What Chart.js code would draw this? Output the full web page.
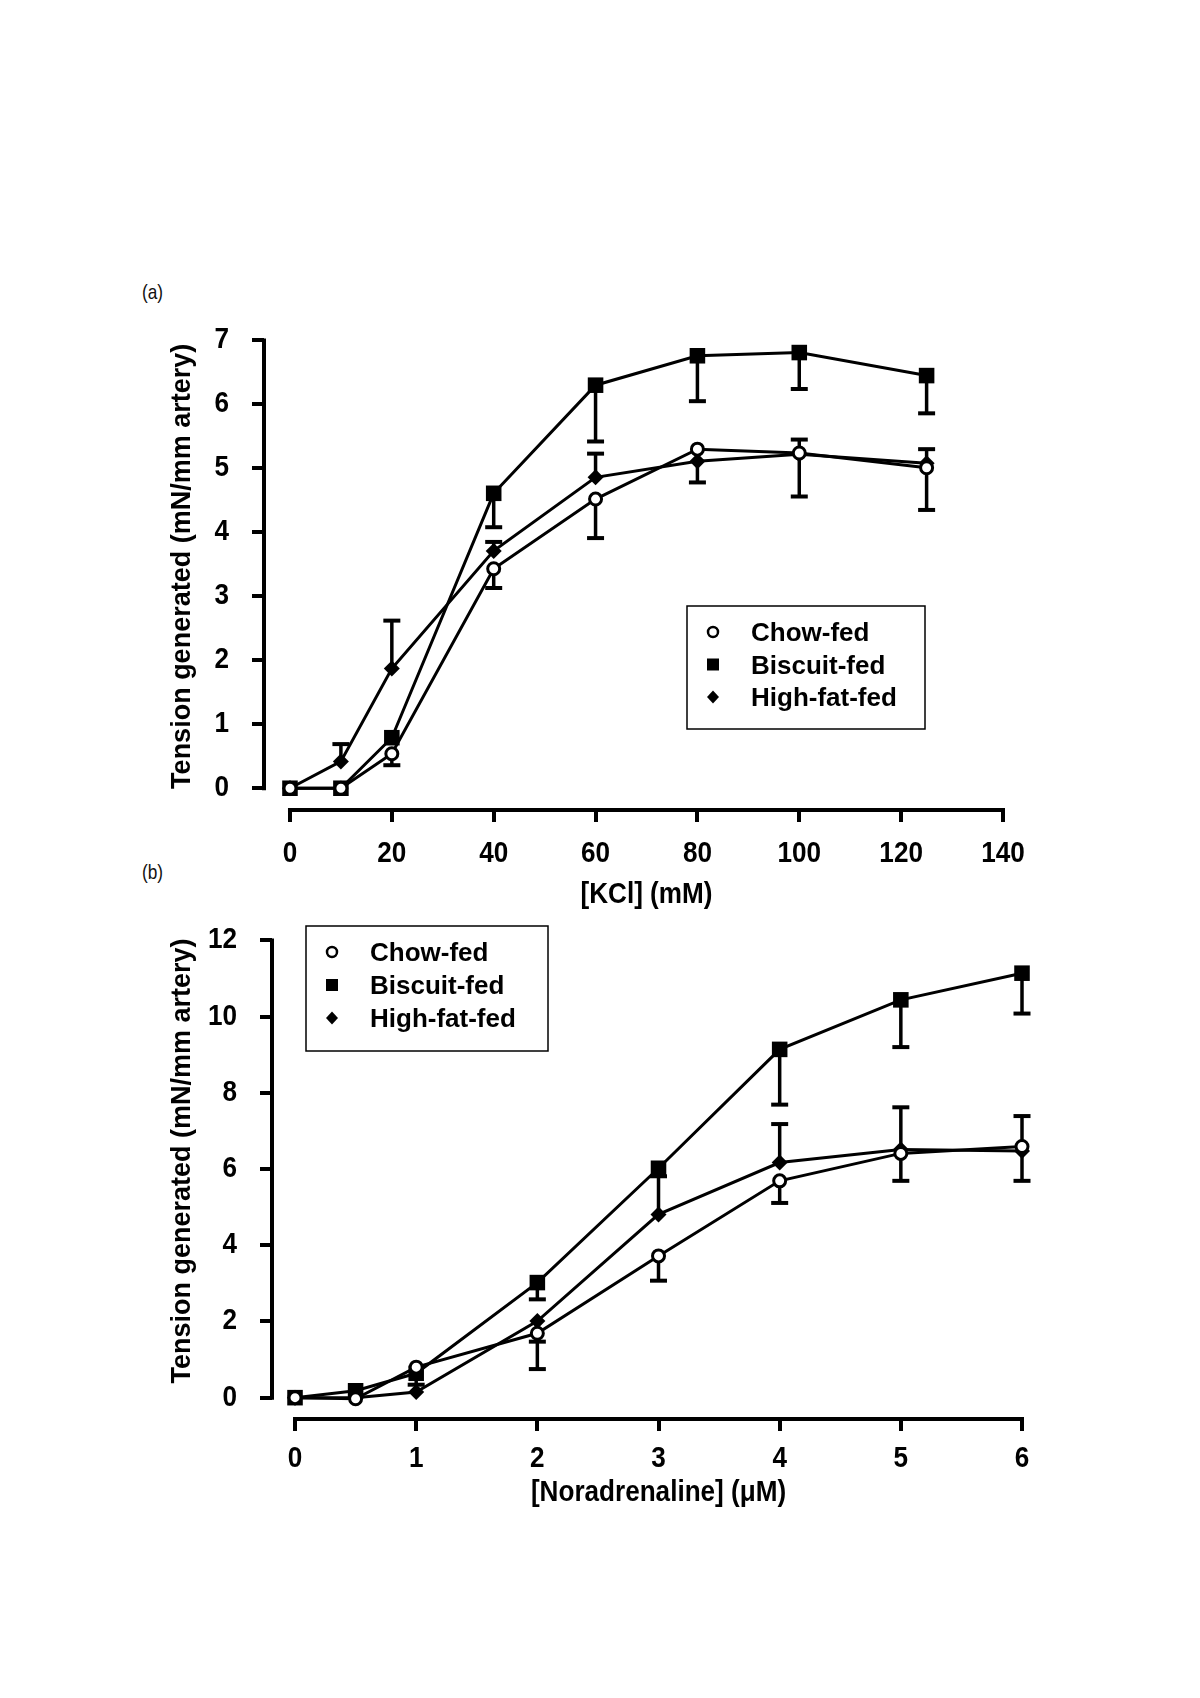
<!DOCTYPE html>
<html>
<head>
<meta charset="utf-8">
<script src="https://cdn.jsdelivr.net/npm/chart.js@4.4.1/dist/chart.umd.min.js"></script>
<style>
  body { margin: 0; background: #fff; }
  #page { position: relative; width: 1200px; height: 1698px; background: #fff; }
  canvas { position: absolute; left: 0; }
  .panel { position: absolute; font: 21px "Liberation Sans Narrow", "Liberation Sans", sans-serif; color: #111;
           transform: scaleX(0.82); transform-origin: left top; }
</style>
</head>
<body>
<div id="page">
  <div class="panel" style="left:142px; top:280px;">(a)</div>
  <div class="panel" style="left:142px; top:860px;">(b)</div>
  <canvas id="kclChart" width="1200" height="612" style="top:300px"></canvas>
  <canvas id="noradChart" width="1200" height="610" style="top:900px"></canvas>
</div>
<script>
const seriesNames = ['Chow-fed', 'Biscuit-fed', 'High-fat-fed'];
const yTitle = 'Tension generated (mN/mm artery)';

// (a) KCl response, mN/mm artery; errors are signed (only one side is drawn)
const kclConc = [0, 10, 20, 40, 60, 80, 100, 125];
const kclChow = [0, 0, 0.54, 3.43, 4.52, 5.30, 5.24, 5.01];
const kclChowErr = [0, 0, -0.18, -0.30, -0.61, 0, -0.68, -0.66];
const kclBiscuit = [0, 0, 0.79, 4.61, 6.30, 6.76, 6.81, 6.45];
const kclBiscuitErr = [0, 0, 0, -0.53, -0.88, -0.71, -0.57, -0.59];
const kclHighFat = [0, 0.42, 1.87, 3.71, 4.86, 5.11, 5.22, 5.08];
const kclHighFatErr = [0, 0.27, 0.75, 0.14, 0.37, -0.33, 0.23, 0.22];
const kclXTicks = [0, 20, 40, 60, 80, 100, 120, 140];
const kclYTicks = [0, 1, 2, 3, 4, 5, 6, 7];

// (b) noradrenaline response
const noradConc = [0, 0.5, 1, 2, 3, 4, 5, 6];
const noradChow = [0, -0.03, 0.80, 1.69, 3.72, 5.69, 6.41, 6.59];
const noradChowErr = [0, 0, 0, -0.94, -0.65, -0.58, -0.72, -0.90];
const noradBiscuit = [0, 0.18, 0.64, 3.02, 6.02, 9.14, 10.44, 11.14];
const noradBiscuitErr = [0, 0, -0.30, -0.44, 0, -1.45, -1.24, -1.06];
const noradHighFat = [0, 0, 0.15, 2.01, 4.81, 6.17, 6.51, 6.47];
const noradHighFatErr = [0, 0, 0, -0.54, 1.00, 1.01, 1.11, 0.92];
const noradXTicks = [0, 1, 2, 3, 4, 5, 6];
const noradYTicks = [0, 2, 4, 6, 8, 10, 12];

const narrowFont = { family: '"Liberation Sans Narrow", "Liberation Sans", sans-serif', size: 29, weight: 'bold' };

const markerStyles = [
  { pointStyle: 'circle', pointRadius: 6, pointBackgroundColor: '#fff', pointBorderWidth: 3 },
  { pointStyle: 'rect', pointRadius: 11, pointBackgroundColor: '#000', pointBorderWidth: 0 },
  { pointStyle: 'rectRot', pointRadius: 8, pointBackgroundColor: '#000', pointBorderWidth: 0 }
];

function makeDatasets(xs, series, errs) {
  return series.map((vals, i) => Object.assign({
    label: seriesNames[i],
    data: xs.map((x, j) => ({ x: x, y: vals[j] })),
    errors: errs[i],
    borderColor: '#000',
    borderWidth: 3,
    pointBorderColor: '#000',
    tension: 0,
    clip: false
  }, markerStyles[i]));
}

// no narrow face installed, so squeeze the axis text by hand
const narrowText = {
  id: 'narrowText',
  beforeInit(chart) {
    const ctx = chart.ctx;
    const fill = ctx.fillText.bind(ctx);
    ctx.fillText = function (text, x, y, maxWidth) {
      if (ctx.font.indexOf('Narrow') < 0) return fill(text, x, y, maxWidth);
      ctx.save();
      ctx.translate(x, y);
      ctx.scale(0.9, 1);
      fill(text, 0, 0);
      ctx.restore();
    };
  }
};

// SigmaPlot-style detached axes: the lines only span the tick range
const offsetAxes = {
  id: 'offsetAxes',
  beforeDatasetsDraw(chart) {
    const { ctx, chartArea, scales: { x, y } } = chart;
    const xt = x.ticks, yt = y.ticks;
    ctx.save();
    ctx.strokeStyle = '#000';
    ctx.lineWidth = 4;
    ctx.beginPath();
    ctx.moveTo(chartArea.left, y.getPixelForValue(yt[yt.length - 1].value) - 2);
    ctx.lineTo(chartArea.left, y.getPixelForValue(yt[0].value) + 2);
    ctx.moveTo(x.getPixelForValue(xt[0].value) - 2, chartArea.bottom);
    ctx.lineTo(x.getPixelForValue(xt[xt.length - 1].value) + 2, chartArea.bottom);
    ctx.stroke();
    ctx.restore();
  }
};

// axis titles centred on the tick range rather than the whole chart area
const axisTitles = {
  id: 'axisTitles',
  afterDraw(chart, args, o) {
    const { ctx, scales: { x, y } } = chart;
    const xt = x.ticks, yt = y.ticks;
    const xMid = (x.getPixelForValue(xt[0].value) + x.getPixelForValue(xt[xt.length - 1].value)) / 2;
    const yMid = (y.getPixelForValue(yt[0].value) + y.getPixelForValue(yt[yt.length - 1].value)) / 2;
    ctx.save();
    ctx.fillStyle = '#000';
    ctx.textAlign = 'center';
    ctx.textBaseline = 'middle';
    ctx.font = 'bold 29px "Liberation Sans Narrow", "Liberation Sans", sans-serif';
    ctx.fillText(o.xTitle, xMid, x.bottom - 17);
    ctx.font = 'bold 27px "Liberation Sans", Arial, sans-serif';
    ctx.translate(y.left + 183, yMid + o.yShift);
    ctx.rotate(-Math.PI / 2);
    ctx.fillText(yTitle, 0, 0);
    ctx.restore();
  }
};

const errorBars = {
  id: 'errorBars',
  beforeDatasetsDraw(chart) {
    const { ctx, scales: { x, y } } = chart;
    ctx.save();
    ctx.strokeStyle = '#000';
    chart.data.datasets.forEach(ds => {
      ds.data.forEach((p, j) => {
        const e = ds.errors[j];
        if (!e) return;
        const px = x.getPixelForValue(p.x);
        const y0 = y.getPixelForValue(p.y);
        const y1 = y.getPixelForValue(p.y + e);
        ctx.lineWidth = 3.5;
        ctx.beginPath();
        ctx.moveTo(px, y0);
        ctx.lineTo(px, y1);
        ctx.stroke();
        ctx.lineWidth = 4;
        ctx.beginPath();
        ctx.moveTo(px - 8.5, y1);
        ctx.lineTo(px + 8.5, y1);
        ctx.stroke();
      });
    });
    ctx.restore();
  }
};

function drawMarker(ctx, style, cx, cy) {
  ctx.beginPath();
  if (style === 'circle') {
    ctx.lineWidth = 2.5;
    ctx.arc(cx, cy, 5, 0, Math.PI * 2);
    ctx.fillStyle = '#fff';
    ctx.fill();
    ctx.stroke();
  } else if (style === 'rect') {
    ctx.fillStyle = '#000';
    ctx.fillRect(cx - 6, cy - 6, 12, 12);
  } else {
    ctx.fillStyle = '#000';
    ctx.moveTo(cx, cy - 6.5);
    ctx.lineTo(cx + 6, cy);
    ctx.lineTo(cx, cy + 6.5);
    ctx.lineTo(cx - 6, cy);
    ctx.closePath();
    ctx.fill();
  }
}

const boxLegend = {
  id: 'boxLegend',
  afterDraw(chart, args, o) {
    const ctx = chart.ctx;
    ctx.save();
    ctx.strokeStyle = '#000';
    ctx.lineWidth = 1.5;
    ctx.strokeRect(o.left, o.top, o.width, o.height);
    chart.data.datasets.forEach((ds, i) => {
      const cy = o.top + o.firstRow + i * o.rowGap;
      drawMarker(ctx, ds.pointStyle, o.left + 26, cy - 2);
      ctx.fillStyle = '#000';
      ctx.font = 'bold 26px "Liberation Sans", Arial, sans-serif';
      ctx.textBaseline = 'middle';
      ctx.fillText(ds.label, o.left + 64, cy);
    });
    ctx.restore();
  }
};

function makeScales(o) {
  return {
    x: {
      type: 'linear',
      min: o.xMin,
      max: o.xMax,
      afterBuildTicks: s => { s.ticks = o.xTicks.map(v => ({ value: v })); },
      afterFit: s => { s.height = o.xHeight; },
      grid: { drawOnChartArea: false, drawTicks: true, tickLength: 12, lineWidth: 4, color: '#000' },
      border: { display: false },
      ticks: { font: narrowFont, color: '#000', padding: o.xPad, maxRotation: 0, autoSkip: false }
    },
    y: {
      type: 'linear',
      min: o.yMin,
      max: o.yMax,
      afterBuildTicks: s => { s.ticks = o.yTicks.map(v => ({ value: v })); },
      afterFit: s => { s.width = o.yWidth; },
      grid: { drawOnChartArea: false, drawTicks: true, tickLength: 12, lineWidth: 4, color: '#000' },
      border: { display: false },
      ticks: { font: narrowFont, color: '#000', padding: 23, autoSkip: false }
    }
  };
}

const kclChart = new Chart(document.getElementById('kclChart'), {
  type: 'line',
  data: { datasets: makeDatasets(kclConc, [kclChow, kclBiscuit, kclHighFat], [kclChowErr, kclBiscuitErr, kclHighFatErr]) },
  options: {
    responsive: false,
    animation: false,
    layout: { padding: { top: 37, right: 197, bottom: 0, left: 0 } },
    scales: makeScales({ xMin: -5.1, xMax: 140, xTicks: kclXTicks, xHeight: 102, xPad: 15,
                         yMin: -0.34, yMax: 7, yTicks: kclYTicks, yWidth: 264 }),
    plugins: {
      legend: { display: false },
      tooltip: { enabled: false },
      axisTitles: { xTitle: '[KCl] (mM)', yShift: 2 },
      boxLegend: { left: 687, top: 306, width: 238, height: 123, firstRow: 28, rowGap: 32.5 }
    }
  },
  plugins: [narrowText, offsetAxes, errorBars, axisTitles, boxLegend]
});

const noradChart = new Chart(document.getElementById('noradChart'), {
  type: 'line',
  data: { datasets: makeDatasets(noradConc, [noradChow, noradBiscuit, noradHighFat], [noradChowErr, noradBiscuitErr, noradHighFatErr]) },
  options: {
    responsive: false,
    animation: false,
    layout: { padding: { top: 33, right: 178, bottom: 0, left: 0 } },
    scales: makeScales({ xMin: -0.19, xMax: 6, xTicks: noradXTicks, xHeight: 91, xPad: 11,
                         yMin: -0.56, yMax: 12, yTicks: noradYTicks, yWidth: 272 }),
    plugins: {
      legend: { display: false },
      tooltip: { enabled: false },
      axisTitles: { xTitle: '[Noradrenaline] (\u03bcM)', yShift: -8 },
      boxLegend: { left: 306, top: 26, width: 242, height: 125, firstRow: 28, rowGap: 33 }
    }
  },
  plugins: [narrowText, offsetAxes, errorBars, axisTitles, boxLegend]
});
</script>
</body>
</html>
